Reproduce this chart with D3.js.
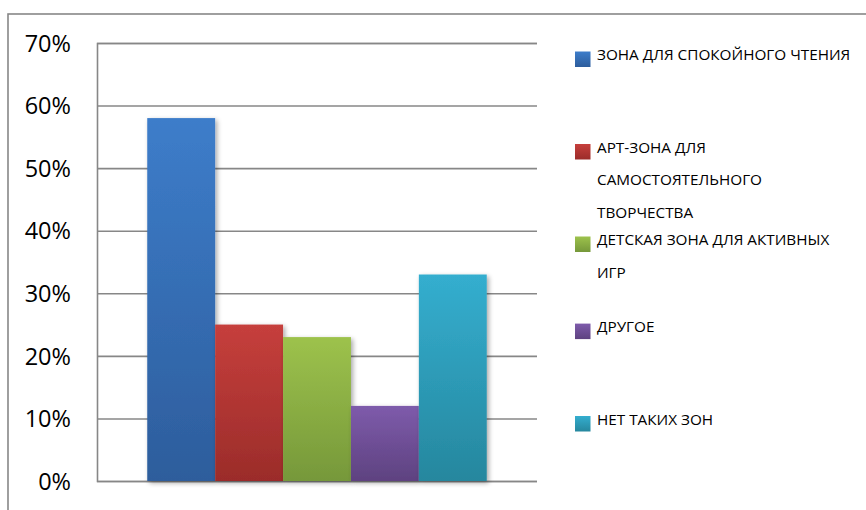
<!DOCTYPE html>
<html><head><meta charset="utf-8">
<script src="https://cdn.jsdelivr.net/npm/d3@7"></script>
<style>
html,body{margin:0;padding:0;background:#fff;}
svg{display:block;}
</style></head>
<body>
<svg id="chart" width="866" height="510"></svg>
<script>
const categories = ["ЗОНА ДЛЯ СПОКОЙНОГО ЧТЕНИЯ", "АРТ-ЗОНА ДЛЯ САМОСТОЯТЕЛЬНОГО ТВОРЧЕСТВА", "ДЕТСКАЯ ЗОНА ДЛЯ АКТИВНЫХ ИГР", "ДРУГОЕ", "НЕТ ТАКИХ ЗОН"];
const values = [0.58, 0.25, 0.23, 0.12, 0.33];
const yTicks = [0, 0.1, 0.2, 0.3, 0.4, 0.5, 0.6, 0.7];
const colorsTop = ["#3d7dca", "#c63f3c", "#9dc24c", "#7e5bab", "#34aecf"];
const colorsBottom = ["#2d5d9c", "#9b2c2a", "#76983a", "#5e4280", "#26879e"];

const svg = d3.select("#chart");
const plot = {left: 97, right: 537, top: 43, bottom: 481};

// outer frame
svg.append("rect").attr("x", 8).attr("y", 14).attr("width", 900).attr("height", 600)
  .attr("fill", "#fff").attr("stroke", "#878787").attr("stroke-width", 1.6);

const defs = svg.append("defs");
categories.forEach((c, i) => {
  const g = defs.append("linearGradient").attr("id", "grad" + i)
    .attr("x1", 0).attr("y1", 0).attr("x2", 0).attr("y2", 1);
  g.append("stop").attr("offset", "0%").attr("stop-color", colorsTop[i]);
  g.append("stop").attr("offset", "100%").attr("stop-color", colorsBottom[i]);
});
const f = defs.append("filter").attr("id", "shadow").attr("x", "-20%").attr("y", "-20%").attr("width", "150%").attr("height", "150%");
f.append("feGaussianBlur").attr("in", "SourceAlpha").attr("stdDeviation", 2.5).attr("result", "b");
f.append("feOffset").attr("in", "b").attr("dx", 2).attr("dy", 2).attr("result", "o");
f.append("feComponentTransfer").attr("in", "o").attr("result", "o2")
  .append("feFuncA").attr("type", "linear").attr("slope", 0.35);
const m = f.append("feMerge");
m.append("feMergeNode").attr("in", "o2");
m.append("feMergeNode").attr("in", "SourceGraphic");

const y = d3.scaleLinear().domain([0, 0.7]).range([plot.bottom, plot.top]);
const x = d3.scaleBand().domain(categories).range([plot.left, plot.right])
  .paddingInner(0).paddingOuter(0.74);

// axis + gridlines
const yAxis = d3.axisLeft(y).tickValues(yTicks).tickSize(-(plot.right - plot.left))
  .tickFormat(d3.format(".0%")).tickPadding(26);
const ga = svg.append("g").attr("transform", `translate(${plot.left},0)`).call(yAxis);
ga.select(".domain").attr("stroke", "#878787").attr("stroke-width", 1.6);
ga.selectAll(".tick line").attr("stroke", "#878787").attr("stroke-width", 1.6);
ga.selectAll(".tick text").attr("font-family", "'Open Sans', sans-serif")
  .attr("font-size", 23.5).attr("fill", "#000").attr("dy", "0.35em");

// bars
svg.append("g").selectAll("rect").data(values).join("rect")
  .attr("x", (d, i) => x(categories[i]))
  .attr("y", d => y(d))
  .attr("width", x.bandwidth())
  .attr("height", d => y(0) - y(d))
  .attr("fill", (d, i) => `url(#grad${i})`)
  .attr("filter", "url(#shadow)");

// legend
const legendTextY = [54.5, 147, 239.5, 326.6, 419];
const lineH = 32.5;
const fontLegend = 15.3;
const lg = svg.append("g").attr("font-family", "'Open Sans', sans-serif").attr("font-size", fontLegend).attr("fill", "#000");
function wrap(text, maxW) {
  const words = text.split(" ");
  const meas = lg.append("text");
  const lines = []; let cur = "";
  words.forEach(w => {
    const t = cur ? cur + " " + w : w;
    meas.text(t);
    if (meas.node().getComputedTextLength() > maxW && cur) { lines.push(cur); cur = w; }
    else cur = t;
  });
  if (cur) lines.push(cur);
  meas.remove();
  return lines;
}
categories.forEach((c, i) => {
  const ty = legendTextY[i];
  lg.append("rect").attr("x", 575).attr("y", ty - 3).attr("width", 15.5).attr("height", 15.5)
    .attr("fill", `url(#grad${i})`);
  const lines = wrap(c, 257);
  lines.forEach((ln, j) => {
    lg.append("text").attr("x", 597).attr("y", ty + j * lineH).attr("dy", "0.36em").text(ln);
  });
});
</script>
</body></html>
